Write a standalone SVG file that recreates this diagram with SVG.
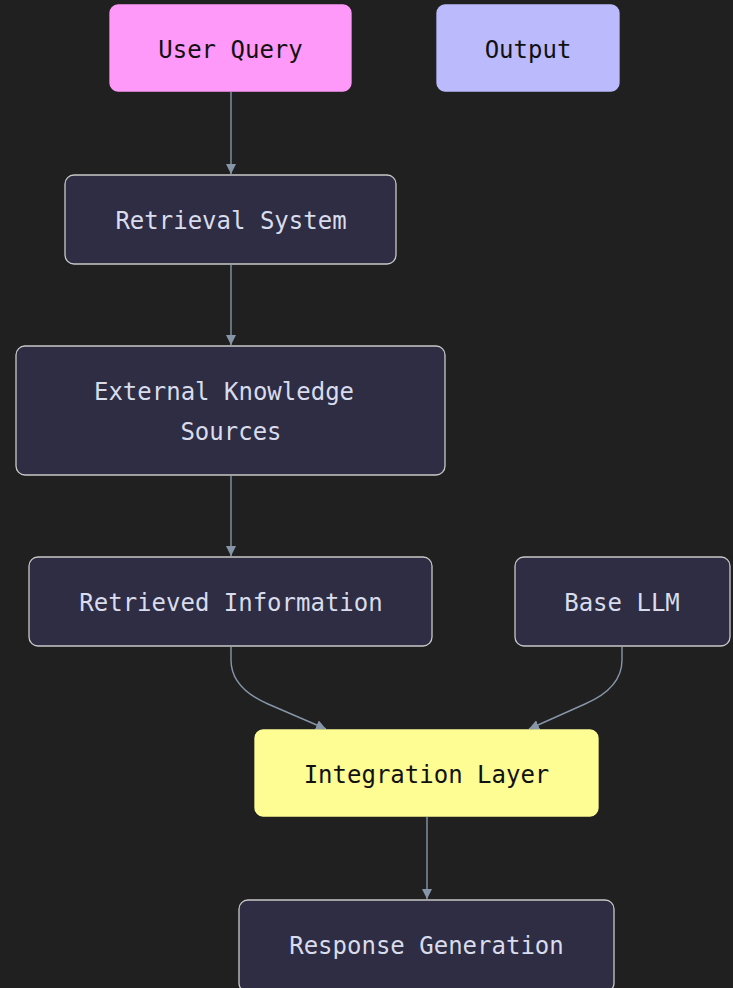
<svg xmlns="http://www.w3.org/2000/svg" width="733" height="988" viewBox="0 0 733 988">
<style>
.bg{fill:#202020}
.n rect{stroke-width:1.3}
.dark rect{fill:#2e2d43;stroke:#c8c8c8}
.dark text{fill:#d8dcec}
.light text{fill:#111}
text{font-family:"DejaVu Sans Mono","Liberation Mono",monospace;font-size:24px;text-anchor:middle;dominant-baseline:central}
.e{fill:none;stroke:#8696a8;stroke-width:1.4}
</style>
<defs>
<marker id="arr" viewBox="0 0 10 10" refX="10" refY="5" markerWidth="10" markerHeight="10" markerUnits="userSpaceOnUse" orient="auto">
<path d="M0,0 L10,5 L0,10 z" fill="#8696a8"/>
</marker>
</defs>
<rect class="bg" x="0" y="0" width="733" height="988"/>
<g id="connectors">
<path class="e" d="M231,92 L231,174" marker-end="url(#arr)"/>
<path class="e" d="M231,265 L231,345" marker-end="url(#arr)"/>
<path class="e" d="M231,476 L231,556" marker-end="url(#arr)"/>
<path class="e" d="M231,647 L231,660 Q231,688 268,704 L326,729" marker-end="url(#arr)"/>
<path class="e" d="M622,647 L622,660 Q622,688 585,704 L529,729" marker-end="url(#arr)"/>
<path class="e" d="M427,817 L427,899" marker-end="url(#arr)"/>
</g>
<g id="userQuery" class="n light"><rect x="110" y="5" width="241" height="86" rx="8" fill="#ff99f9" stroke="#ff99f9"/><text x="230.5" y="50">User Query</text></g>
<g id="output" class="n light"><rect x="437" y="5" width="182" height="86" rx="8" fill="#bbbafd" stroke="#bbbafd"/><text x="528" y="50">Output</text></g>
<g id="retrievalSystem" class="n dark"><rect x="65" y="175" width="331" height="89" rx="9"/><text x="231" y="221">Retrieval System</text></g>
<g id="externalKnowledge" class="n dark"><rect x="16" y="346" width="429" height="129" rx="9"/><text x="224" y="392">External Knowledge</text><text x="231" y="432">Sources</text></g>
<g id="retrievedInfo" class="n dark"><rect x="29" y="557" width="403" height="89" rx="9"/><text x="231" y="603">Retrieved Information</text></g>
<g id="baseLLM" class="n dark"><rect x="515" y="557" width="215" height="89" rx="9"/><text x="622" y="603">Base LLM</text></g>
<g id="integrationLayer" class="n light"><rect x="255" y="730" width="343" height="86" rx="8" fill="#fdfd93" stroke="#fdfd93"/><text x="426.5" y="775">Integration Layer</text></g>
<g id="responseGeneration" class="n dark"><rect x="239" y="900" width="375" height="92" rx="9"/><text x="426.5" y="946">Response Generation</text></g>
</svg>
